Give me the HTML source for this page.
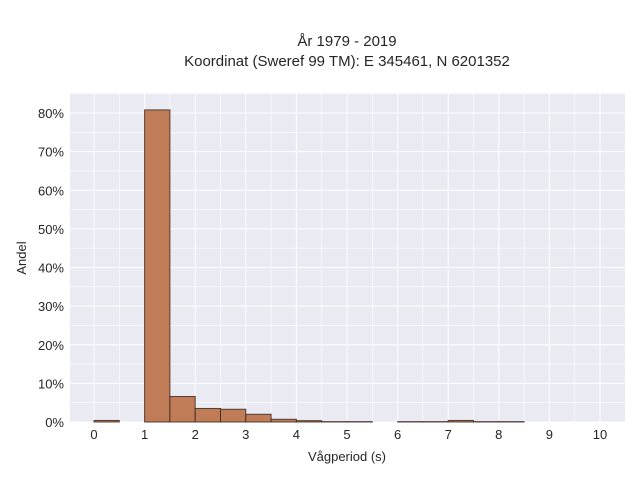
<!DOCTYPE html>
<html><head><meta charset="utf-8"><style>
body{margin:0;background:#fff;font-family:"Liberation Sans",sans-serif;}
svg text{font-family:"Liberation Sans",sans-serif;fill:#262626;}
</style></head><body>
<svg width="640" height="480" xmlns="http://www.w3.org/2000/svg">
<text x="347" y="46" font-size="15" text-anchor="middle">År 1979 - 2019</text>
<text x="347" y="66" font-size="15" text-anchor="middle">Koordinat (Sweref 99 TM): E 345461, N 6201352</text>
<rect x="70" y="93" width="555" height="329" fill="#eaeaf2"/>
<g id="grid"></g><g id="bars"></g><g id="ticks"></g>
<text x="347" y="461" font-size="13" text-anchor="middle">Vågperiod (s)</text>
<text transform="translate(26,258) rotate(-90)" font-size="13" text-anchor="middle">Andel</text>
</svg>
<script>
const binStarts=[0,0.5,1,1.5,2,2.5,3,3.5,4,4.5,5,5.5,6,6.5,7,7.5,8];
const shares=[0.4,0,80.8,6.6,3.5,3.3,2.0,0.7,0.35,0.1,0.1,0,0.1,0.1,0.4,0.1,0.1];
const xTicks=[0,1,2,3,4,5,6,7,8,9,10];
const yTicks=[0,10,20,30,40,50,60,70,80];
const binWidth=0.5;
const NS="http://www.w3.org/2000/svg";
const xs=v=>94+v*50.6, ys=v=>422-v*3.8625;
const grid=document.getElementById('grid'),bars=document.getElementById('bars'),ticks=document.getElementById('ticks');
function mk(t,a){const e=document.createElementNS(NS,t);for(const k in a)e.setAttribute(k,a[k]);return e;}
for(let v=-0.5;v<=10.5;v+=0.5){const x=xs(v);if(x<70||x>625)continue;const l=mk('line',{x1:x,x2:x,y1:93,y2:422,stroke:'#fff','stroke-width':Number.isInteger(v)?1:0.6});


grid.appendChild(l);}
for(let v=0;v<=85;v+=5){const y=ys(v);if(y<93)continue;const l=mk('line',{x1:70,x2:625,y1:y,y2:y,stroke:'#fff','stroke-width':v%10==0?1:0.6});


grid.appendChild(l);}
binStarts.forEach((s,i)=>{const v=shares[i];if(v<=0)return;const r=mk('rect',{x:xs(s),y:ys(v),width:xs(s+binWidth)-xs(s),height:ys(0)-ys(v),fill:'#c07c56',stroke:'#3a2a22','stroke-width':1,'stroke-opacity':0.85});


bars.appendChild(r);});
xTicks.forEach(v=>{const t=mk('text',{x:xs(v),y:439,'font-size':13,'text-anchor':'middle'});t.textContent=v;


ticks.appendChild(t);});
yTicks.forEach(v=>{const t=mk('text',{x:64,y:ys(v)+5,'font-size':13,'text-anchor':'end'});t.textContent=v+'%';


ticks.appendChild(t);});
</script>
</body></html>
